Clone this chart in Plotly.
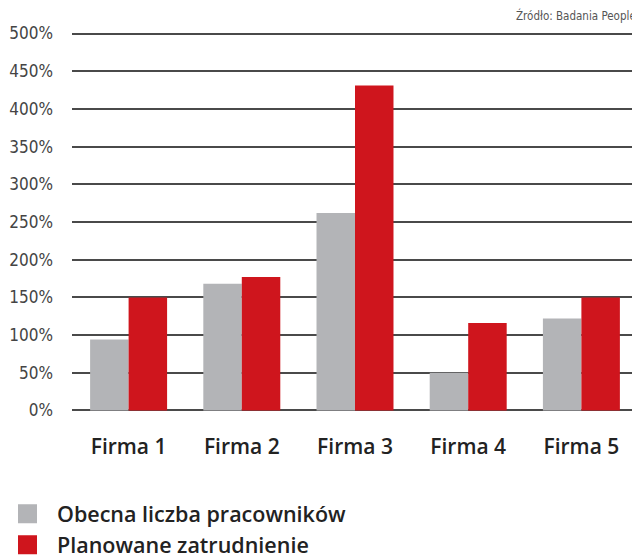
import plotly.graph_objects as go

categories = ["Firma 1", "Firma 2", "Firma 3", "Firma 4", "Firma 5"]
obecna = [94, 168, 262, 50, 122]
planowane = [150, 177, 431, 116, 150]
y_ticks = [0, 50, 100, 150, 200, 250, 300, 350, 400, 450, 500]
y_tick_labels = [f"{v}%" for v in y_ticks]
series_names = ["Obecna liczba pracowników", "Planowane zatrudnienie"]
source_text = "Źródło: Badania People"

GRAY = "#b3b4b7"
RED = "#cf151d"

# the page body adds an 8px offset, so the figure is drawn 8px smaller
W, H = 632, 551
ML, MR, MT, MB = 64, 2, 23.5, 146.5
PW, PH = W - ML - MR, H - MT - MB

fig = go.Figure()
fig.add_trace(go.Bar(x=categories, y=obecna, name=series_names[0],
                     marker=dict(color=GRAY, line=dict(width=0)), showlegend=False))
fig.add_trace(go.Bar(x=categories, y=planowane, name=series_names[1],
                     marker=dict(color=RED, line=dict(width=0)), showlegend=False))
# legend entries with larger square swatches
fig.add_trace(go.Scatter(x=[None], y=[None], mode="markers", name=series_names[0],
                         marker=dict(symbol="square", size=16, color=GRAY,
                                     line=dict(color=GRAY, width=3))))
fig.add_trace(go.Scatter(x=[None], y=[None], mode="markers", name=series_names[1],
                         marker=dict(symbol="square", size=16, color=RED,
                                     line=dict(color=RED, width=3))))

fig.update_layout(
    width=W, height=H,
    margin=dict(l=ML, r=MR, t=MT, b=MB, autoexpand=False),
    plot_bgcolor="white", paper_bgcolor="white",
    barmode="group", bargap=0.32, bargroupgap=0,
    font=dict(family="Liberation Sans Narrow, DejaVu Sans Condensed, sans-serif", color="#444"),
    legend=dict(
        xref="paper", yref="paper",
        x=(-10 - ML) / PW, y=(H - MB - 486) / PH,
        xanchor="left", yanchor="top", orientation="v",
        font=dict(family="Open Sans, sans-serif", size=21.5, color="#222", weight=600),
        tracegroupgap=0, itemwidth=49, bgcolor="rgba(0,0,0,0)",
    ),
    annotations=[dict(
        text=source_text, xref="paper", yref="paper",
        x=(630 - ML) / PW, y=(H - MB - 7) / PH, xanchor="right", yanchor="middle",
        showarrow=False,
        font=dict(family="Liberation Sans Narrow, DejaVu Sans Condensed, sans-serif", size=11.5, color="#555"),
    )],
)
fig.update_xaxes(
    showgrid=False, showline=False, ticks="", tickangle=0,
    tickfont=dict(family="Open Sans, sans-serif", size=21, color="#222", weight=600),
    ticklabelstandoff=20,
)
fig.update_yaxes(
    range=[-2, 502], tickvals=y_ticks, ticktext=y_tick_labels,
    showgrid=True, gridcolor="#4a4a4a", gridwidth=1.5,
    zeroline=True, zerolinecolor="#4a4a4a", zerolinewidth=1.5,
    showline=False, ticks="",
    tickfont=dict(family="Liberation Sans Narrow, DejaVu Sans Condensed, sans-serif", size=17, color="#444"),
    ticklabelstandoff=18,
)

fig.write_html("out.html")
